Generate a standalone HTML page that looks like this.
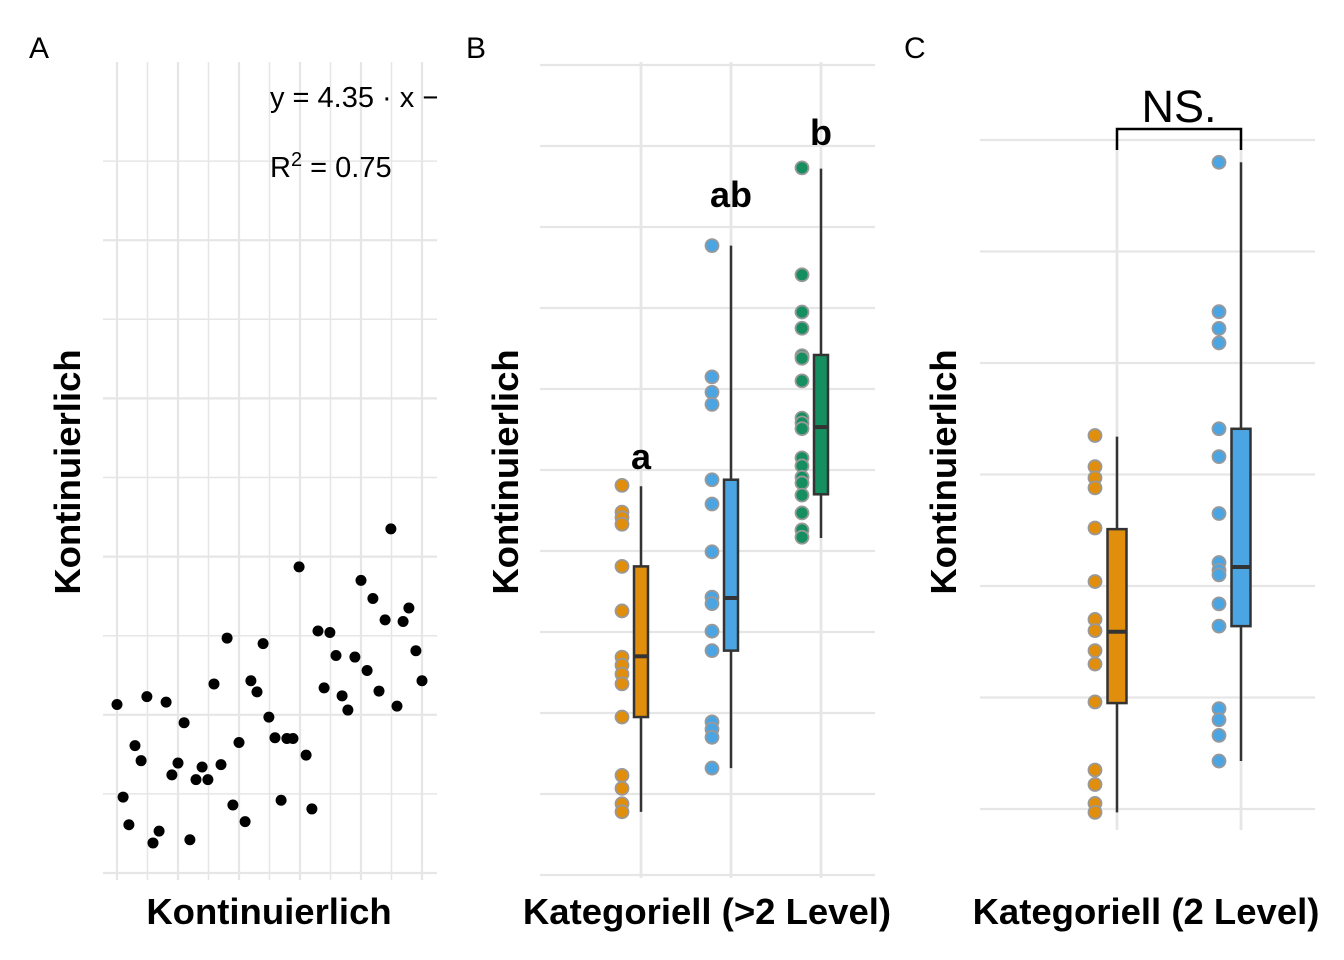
<!DOCTYPE html>
<html><head><meta charset="utf-8"><style>
html,body{margin:0;padding:0;background:#fff;}
svg{display:block;font-family:"Liberation Sans",Arial,sans-serif;}
</style></head><body>
<svg id="fig" width="1344" height="960" viewBox="0 0 1344 960">
<g id="pa"></g>
<g id="pb"></g>
<g id="pc"></g>
</svg>
<script>
// Panel A data
const aX = [0,0.2,0.39,0.59,0.79,0.98,1.18,1.38,1.61,1.8,2.0,2.2,2.39,2.59,2.79,2.98,3.18,3.41,3.61,3.8,4.0,4.2,4.39,4.59,4.79,4.98,5.18,5.38,5.57,5.77,5.97,6.2,6.39,6.59,6.79,6.98,7.18,7.38,7.57,7.8,8.0,8.2,8.39,8.59,8.79,8.98,9.18,9.38,9.57,9.8,10.0];
const aY = [2.13,0.96,0.61,1.61,1.42,2.23,0.38,0.53,2.16,1.24,1.39,1.9,0.42,1.18,1.34,1.18,2.39,1.37,2.97,0.86,1.65,0.65,2.43,2.29,2.9,1.97,1.71,0.92,1.7,1.7,3.87,1.49,0.81,3.06,2.34,3.04,2.75,2.24,2.06,2.73,3.7,2.56,3.47,2.3,3.2,4.35,2.11,3.18,3.35,2.81,2.43];
const aXTicks = [0,1,2,3,4,5,6,7,8,9,10];
const aYTicks = [0,1,2,3,4,5,6,7,8,9];
// Panel B data
const bCats = ["a-group","ab-group","b-group"];
const bLetters = ["a","ab","b"];
const bLetterY = [51.5,83.8,91.5];
const bPts = [
 [48.1,44.8,44.1,43.3,38.1,32.6,26.9,25.9,24.8,23.6,19.5,12.3,10.7,8.8,7.8],
 [77.7,61.5,59.6,58.1,48.8,45.8,39.9,34.3,33.5,30.1,27.7,18.9,18.0,17.0,13.2],
 [87.3,74.1,69.5,67.5,64.1,63.8,61.0,56.4,55.8,55.1,51.5,50.5,49.1,48.4,46.9,44.7,42.6,41.7]];
const bLo = [7.8,13.2,41.6];
const bQ1 = [19.5,27.7,47.0];
const bMed = [27.0,34.2,55.3];
const bQ3 = [38.1,48.8,64.2];
const bHi = [48.0,77.7,87.2];
const bYTicks = [0,10,20,30,40,50,60,70,80,90,100];
// Panel C data
const cCats = ["level-1","level-2"];
const cPts = [
 [33.5,30.7,29.7,28.8,25.2,20.4,17.0,16.0,14.2,13.0,9.6,3.5,2.2,0.5,-0.3],
 [58.0,44.6,43.1,41.8,34.1,31.6,26.5,22.1,21.4,21.0,18.4,16.4,9.0,8.0,6.6,4.3]];
const cLo = [-0.3,4.3];
const cQ1 = [9.5,16.4];
const cMed = [15.9,21.7];
const cQ3 = [25.1,34.1];
const cHi = [33.4,58.0];
const cYTicks = [0,10,20,30,40,50,60];
const cSigLabel = "NS.";

const NS="http://www.w3.org/2000/svg";
function mk(parent,tag,attrs,text){const e=document.createElementNS(NS,tag);for(const k in attrs)e.setAttribute(k,attrs[k]);if(text!==undefined)e.textContent=text;parent.appendChild(e);return e;}
const GRID="#e6e6e6";
const COLS=["#E08E0B","#4BA5E3","#158F60"];
const TFS=36.5;

// ---------- Panel A ----------
(function(){
const g=document.getElementById('pa');
const x=v=>117+v*30.5, y=v=>873-v*79.1;
const L=103,R=437,T=62,B=875;
let cp=mk(g,'clipPath',{id:'clipA'});mk(cp,'rect',{x:L,y:T,width:R-L,height:B-T+8});
aYTicks.forEach(t=>{const l=mk(g,'line',{x1:L,x2:R,y1:y(t),y2:y(t),stroke:GRID,'stroke-width':t%2===0?2.2:1.5});

});
aXTicks.forEach(t=>{const l=mk(g,'line',{x1:x(t),x2:x(t),y1:T,y2:B+5,stroke:GRID,'stroke-width':t%2===0?2.2:1.5});

});
aX.forEach((v,i)=>{const c=mk(g,'circle',{cx:x(v),cy:y(aY[i]),r:5.5,fill:'#000'});

});
const tg=mk(g,'g',{'clip-path':'url(#clipA)'});
const eq=mk(tg,'text',{x:270,y:107,'font-size':29,fill:'#000'},'y = 4.35 · x − 4.19');


const r2=mk(g,'text',{x:270,y:177,'font-size':29,fill:'#000'});


r2.innerHTML='R<tspan dy="-11" font-size="20">2</tspan><tspan dy="11"> = 0.75</tspan>';
const yt=mk(g,'text',{x:0,y:0,transform:'translate(80,472) rotate(-90)','text-anchor':'middle','font-size':TFS,'font-weight':'bold'},'Kontinuierlich');


const xt=mk(g,'text',{x:269,y:924,'text-anchor':'middle','font-size':TFS,'font-weight':'bold'},'Kontinuierlich');


const pl=mk(g,'text',{x:29,y:58,'font-size':30},'A');


})();

function boxPanel(g,cfg){
 const {L,R,T,B,y,xs,ticks,pts,lo,q1,med,q3,hi,bw,off,cols}=cfg;
 ticks.forEach(t=>{const l=mk(g,'line',{x1:L,x2:R,y1:y(t),y2:y(t),stroke:GRID,'stroke-width':2.2});
 
 });
 xs.forEach(cx=>{const l=mk(g,'line',{x1:cx,x2:cx,y1:T,y2:B,stroke:GRID,'stroke-width':2.8});
 
 });
 xs.forEach((cx,i)=>{
  const w=mk(g,'line',{x1:cx,x2:cx,y1:y(lo[i]),y2:y(hi[i]),stroke:'#333','stroke-width':2.5});
  
  
  const r=mk(g,'rect',{x:cx-bw/2,y:y(q3[i]),width:bw,height:y(q1[i])-y(q3[i]),fill:cols[i],stroke:'#333','stroke-width':2.5});
  
  
  const m=mk(g,'line',{x1:cx-bw/2,x2:cx+bw/2,y1:y(med[i]),y2:y(med[i]),stroke:'#333','stroke-width':4});
  
  
  pts[i].forEach(v=>{const c=mk(g,'circle',{cx:cx-off,cy:y(v),r:6.5,fill:cols[i],stroke:'#999','stroke-width':1.8});
  
  });
 });
}

// ---------- Panel B ----------
(function(){
const g=document.getElementById('pb');
const y=v=>875-v*8.1;
const xs=bCats.map((c,i)=>641+i*90);
boxPanel(g,{L:540,R:875,T:62,B:878,y,xs,ticks:bYTicks,pts:bPts,lo:bLo,q1:bQ1,med:bMed,q3:bQ3,hi:bHi,bw:14,off:19,cols:COLS});
xs.forEach((cx,i)=>{const t=mk(g,'text',{x:cx,y:y(bLetterY[i])+11,'text-anchor':'middle','font-size':36,'font-weight':'bold'},bLetters[i]);

});
const yt=mk(g,'text',{x:0,y:0,transform:'translate(518,472) rotate(-90)','text-anchor':'middle','font-size':TFS,'font-weight':'bold'},'Kontinuierlich');


const xt=mk(g,'text',{x:707,y:924,'text-anchor':'middle','font-size':TFS,'font-weight':'bold'},'Kategoriell (>2 Level)');


const pl=mk(g,'text',{x:466,y:58,'font-size':30},'B');


})();

// ---------- Panel C ----------
(function(){
const g=document.getElementById('pc');
const y=v=>809-v*11.15;
const xs=cCats.map((c,i)=>1117+i*124);
boxPanel(g,{L:980,R:1315,T:130,B:830,y,xs,ticks:cYTicks,pts:cPts,lo:cLo,q1:cQ1,med:cMed,q3:cQ3,hi:cHi,bw:19,off:22,cols:COLS});
const br=mk(g,'path',{d:`M${xs[0]} 150 V129 H${xs[1]} V150`,fill:'none',stroke:'#000','stroke-width':2.5});


const ns=mk(g,'text',{x:(xs[0]+xs[1])/2,y:122,'text-anchor':'middle','font-size':45},cSigLabel);


const yt=mk(g,'text',{x:0,y:0,transform:'translate(956,472) rotate(-90)','text-anchor':'middle','font-size':TFS,'font-weight':'bold'},'Kontinuierlich');


const xt=mk(g,'text',{x:1146,y:924,'text-anchor':'middle','font-size':TFS,'font-weight':'bold'},'Kategoriell (2 Level)');


const pl=mk(g,'text',{x:904,y:58,'font-size':30},'C');


})();
</script>
</body></html>
